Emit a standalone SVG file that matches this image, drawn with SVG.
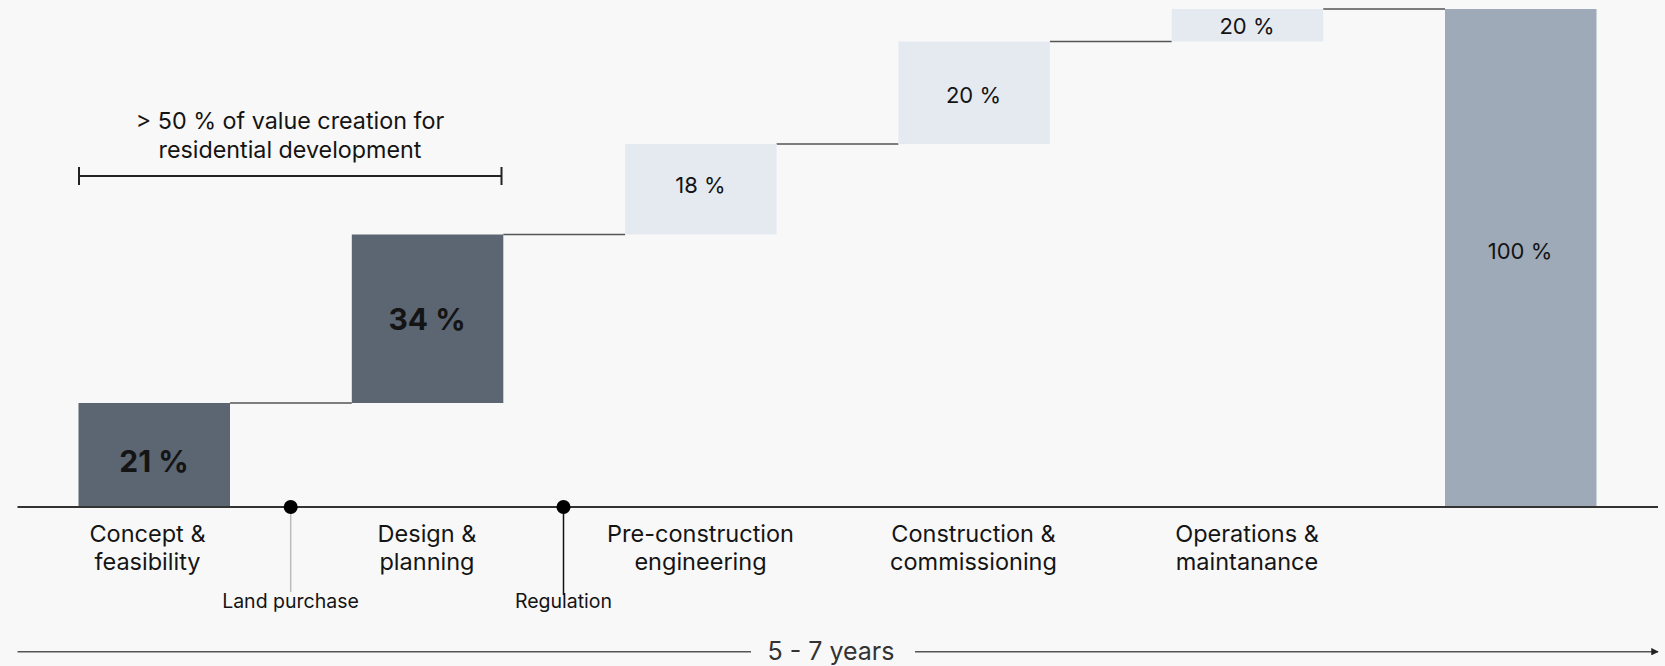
<svg xmlns="http://www.w3.org/2000/svg" width="1665" height="666" viewBox="0 0 1665 666">
<defs>
<style>
text{font-family:Inter,"Noto Sans","Liberation Sans",sans-serif;fill:#141414;text-anchor:middle}
.phase{font-size:23.5px}
.note{font-size:23.3px}
.pct{font-size:22px}
.big{font-size:30px;font-weight:700}
.small{font-size:19.5px}
.dark{fill:#5c6572}
.light{fill:#e5eaf1}
.total{fill:#9eaab7}
.conn{stroke:#555;stroke-width:1.5;fill:none}
</style>
<marker id="ah" viewBox="0 0 10 10" refX="9" refY="5" markerWidth="5" markerHeight="5" orient="auto">
<path d="M0,0 L10,5 L0,10 z" fill="#222"/>
</marker>
</defs>
<rect width="1665" height="666" fill="#f8f8f8"/>

<g id="connectors">
<line class="conn" x1="230" y1="403" x2="351.8" y2="403"/>
<line class="conn" x1="503.3" y1="234.5" x2="625.1" y2="234.5"/>
<line class="conn" x1="776.6" y1="144" x2="898.4" y2="144"/>
<line class="conn" x1="1049.9" y1="41.5" x2="1171.7" y2="41.5"/>
<line class="conn" x1="1323.2" y1="9" x2="1445" y2="9"/>
</g>

<g id="bar-concept">
<rect class="dark" x="78.5" y="403" width="151.5" height="104"/>
<text class="big" x="154" y="471.5">21 %</text>
</g>
<g id="bar-design">
<rect class="dark" x="351.8" y="234.5" width="151.5" height="168.5"/>
<text class="big" x="427" y="330">34 %</text>
</g>
<g id="bar-preconstruction">
<rect class="light" x="625.1" y="144" width="151.5" height="90.5"/>
<text class="pct" x="700.5" y="193">18 %</text>
</g>
<g id="bar-construction">
<rect class="light" x="898.4" y="41.5" width="151.5" height="102.5"/>
<text class="pct" x="973.5" y="102.5">20 %</text>
</g>
<g id="bar-operations">
<rect class="light" x="1171.7" y="9" width="151.5" height="32.5"/>
<text class="pct" x="1247" y="34">20 %</text>
</g>
<g id="bar-total">
<rect class="total" x="1445" y="9" width="151.5" height="498"/>
<text class="pct" x="1520" y="259">100 %</text>
</g>

<g id="bracket">
<line x1="79" y1="176" x2="501.5" y2="176" stroke="#222" stroke-width="2"/>
<line x1="79" y1="167" x2="79" y2="185" stroke="#222" stroke-width="2"/>
<line x1="501.5" y1="167" x2="501.5" y2="185" stroke="#222" stroke-width="2"/>
<text class="note" x="290" y="129">&gt; 50 % of value creation for</text>
<text class="note" x="290" y="158">residential development</text>
</g>

<g id="axis">
<line x1="17.5" y1="507" x2="1658" y2="507" stroke="#333" stroke-width="2"/>
</g>

<g id="milestone-land">
<line x1="290.7" y1="507" x2="290.7" y2="592" stroke="#bcbcbc" stroke-width="1.5"/>
<circle cx="290.7" cy="507" r="7" fill="#000"/>
<text class="small" x="290.5" y="608">Land purchase</text>
</g>
<g id="milestone-regulation">
<line x1="563.5" y1="507" x2="563.5" y2="595" stroke="#111" stroke-width="1.5"/>
<circle cx="563.5" cy="507" r="7" fill="#000"/>
<text class="small" x="563.5" y="608">Regulation</text>
</g>

<g id="label-concept">
<text class="phase" x="147.5" y="542">Concept &amp;</text>
<text class="phase" x="147.5" y="569.5">feasibility</text>
</g>
<g id="label-design">
<text class="phase" x="427" y="542">Design &amp;</text>
<text class="phase" x="427" y="569.5">planning</text>
</g>
<g id="label-preconstruction">
<text class="phase" x="700.5" y="542">Pre-construction</text>
<text class="phase" x="700.5" y="569.5">engineering</text>
</g>
<g id="label-construction">
<text class="phase" x="973.5" y="542">Construction &amp;</text>
<text class="phase" x="973.5" y="569.5">commissioning</text>
</g>
<g id="label-operations">
<text class="phase" x="1247" y="542">Operations &amp;</text>
<text class="phase" x="1247" y="569.5">maintanance</text>
</g>

<g id="timeline">
<line x1="17.5" y1="651.7" x2="751" y2="651.7" stroke="#555" stroke-width="1.5"/>
<line x1="915" y1="651.7" x2="1658" y2="651.7" stroke="#555" stroke-width="1.5" marker-end="url(#ah)"/>
<text x="831" y="660" font-size="25" style="fill:#333">5 - 7 years</text>
</g>
</svg>
